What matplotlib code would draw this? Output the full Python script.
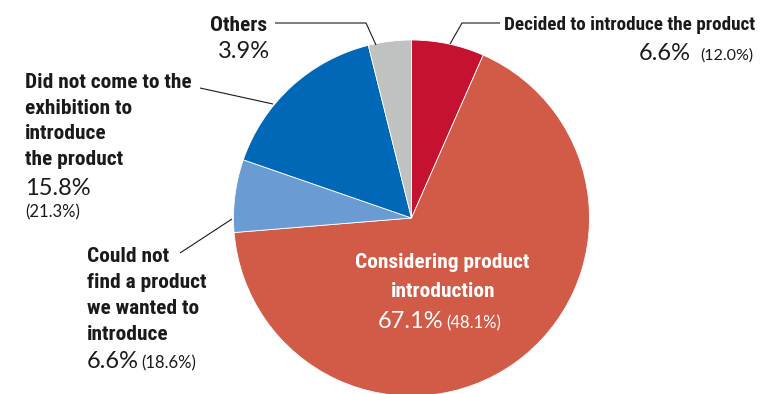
import matplotlib
matplotlib.use("Agg")
import matplotlib.pyplot as plt

# data
labels = ["Decided to introduce the product", "Considering product introduction",
          "Could not find a product we wanted to introduce",
          "Did not come to the exhibition to introduce the product", "Others"]
shares = [6.6, 67.1, 6.6, 15.8, 3.9]
prev_shares = ["(12.0%)", "(48.1%)", "(18.6%)", "(21.3%)", None]
colors = ["#C41230", "#D25B48", "#6A9BD3", "#0068B6", "#C0C1C1"]

W, H = 763, 394
fig = plt.figure(figsize=(W / 100, H / 100), dpi=100)
ax = fig.add_axes([0, 0, 1, 1])

INK = "#1A1A1A"
BOLD = dict(family=["Roboto Condensed", "DejaVu Sans"], fontweight="bold")
THIN = dict(family=["Lato", "DejaVu Sans"], fontweight=400)
BIG, SMALL, LBL = 17, 12, 15.4

def py(y):
    # pixel row -> data y
    return H - y

ax.pie(shares, colors=colors, startangle=90, counterclock=False,
       center=(411.5, py(218)), radius=178, frame=True,
       wedgeprops=dict(linewidth=0.6, edgecolor="white"))
ax.set_xlim(0, W)
ax.set_ylim(0, H)
ax.axis("off")

def line(pts):
    ax.plot([p[0] for p in pts], [py(p[1]) for p in pts], color=INK, lw=0.8,
            solid_capstyle="butt")

# Others
ax.text(210, py(31), "Others", ha="left", va="baseline", color=INK, fontsize=LBL, **BOLD)
ax.text(218, py(58), f"{shares[4]}%", ha="left", va="baseline", fontsize=BIG, color=INK, **THIN)
line([(275, 23), (366, 23), (376, 45)])

# Decided
ax.text(755, py(30), labels[0], ha="right", va="baseline", color=INK, fontsize=13.8, **BOLD)
ax.text(691, py(60), f"{shares[0]}%", ha="right", va="baseline", fontsize=BIG, color=INK, **THIN)
ax.text(753, py(60), prev_shares[0], ha="right", va="baseline", fontsize=11.5, color=INK, **THIN)
line([(500, 23), (462, 23), (450, 44)])

# Did not come
for i, t in enumerate(["Did not come to the", "exhibition to", "introduce", "the product"]):
    ax.text(25, py(88 + i * 25.7), t, ha="left", va="baseline", color=INK, fontsize=LBL, **BOLD)
ax.text(25, py(195), f"{shares[3]}%", ha="left", va="baseline", fontsize=BIG, color=INK, **THIN)
ax.text(25, py(217), prev_shares[3], ha="left", va="baseline", fontsize=SMALL, color=INK, **THIN)
line([(200, 88), (273, 104)])

# Could not find
for i, t in enumerate(["Could not", "find a product", "we wanted to", "introduce"]):
    ax.text(87, py(262 + i * 26), t, ha="left", va="baseline", color=INK, fontsize=LBL, **BOLD)
ax.text(87, py(368), f"{shares[2]}%", ha="left", va="baseline", fontsize=BIG, color=INK, **THIN)
ax.text(141, py(368), prev_shares[2], ha="left", va="baseline", fontsize=SMALL, color=INK, **THIN)
line([(180, 253), (232, 219)])

# Considering
ax.text(442, py(268), "Considering product", ha="center", va="baseline", color="white", fontsize=LBL, **BOLD)
ax.text(443, py(297), "introduction", ha="center", va="baseline", color="white", fontsize=LBL, **BOLD)
ax.text(443, py(328), f"{shares[1]}%", ha="right", va="baseline", fontsize=BIG, color="white", **THIN)
ax.text(446, py(328), prev_shares[1], ha="left", va="baseline", fontsize=SMALL, color="white", **THIN)

fig.savefig("out.png", dpi=100, facecolor="white")
